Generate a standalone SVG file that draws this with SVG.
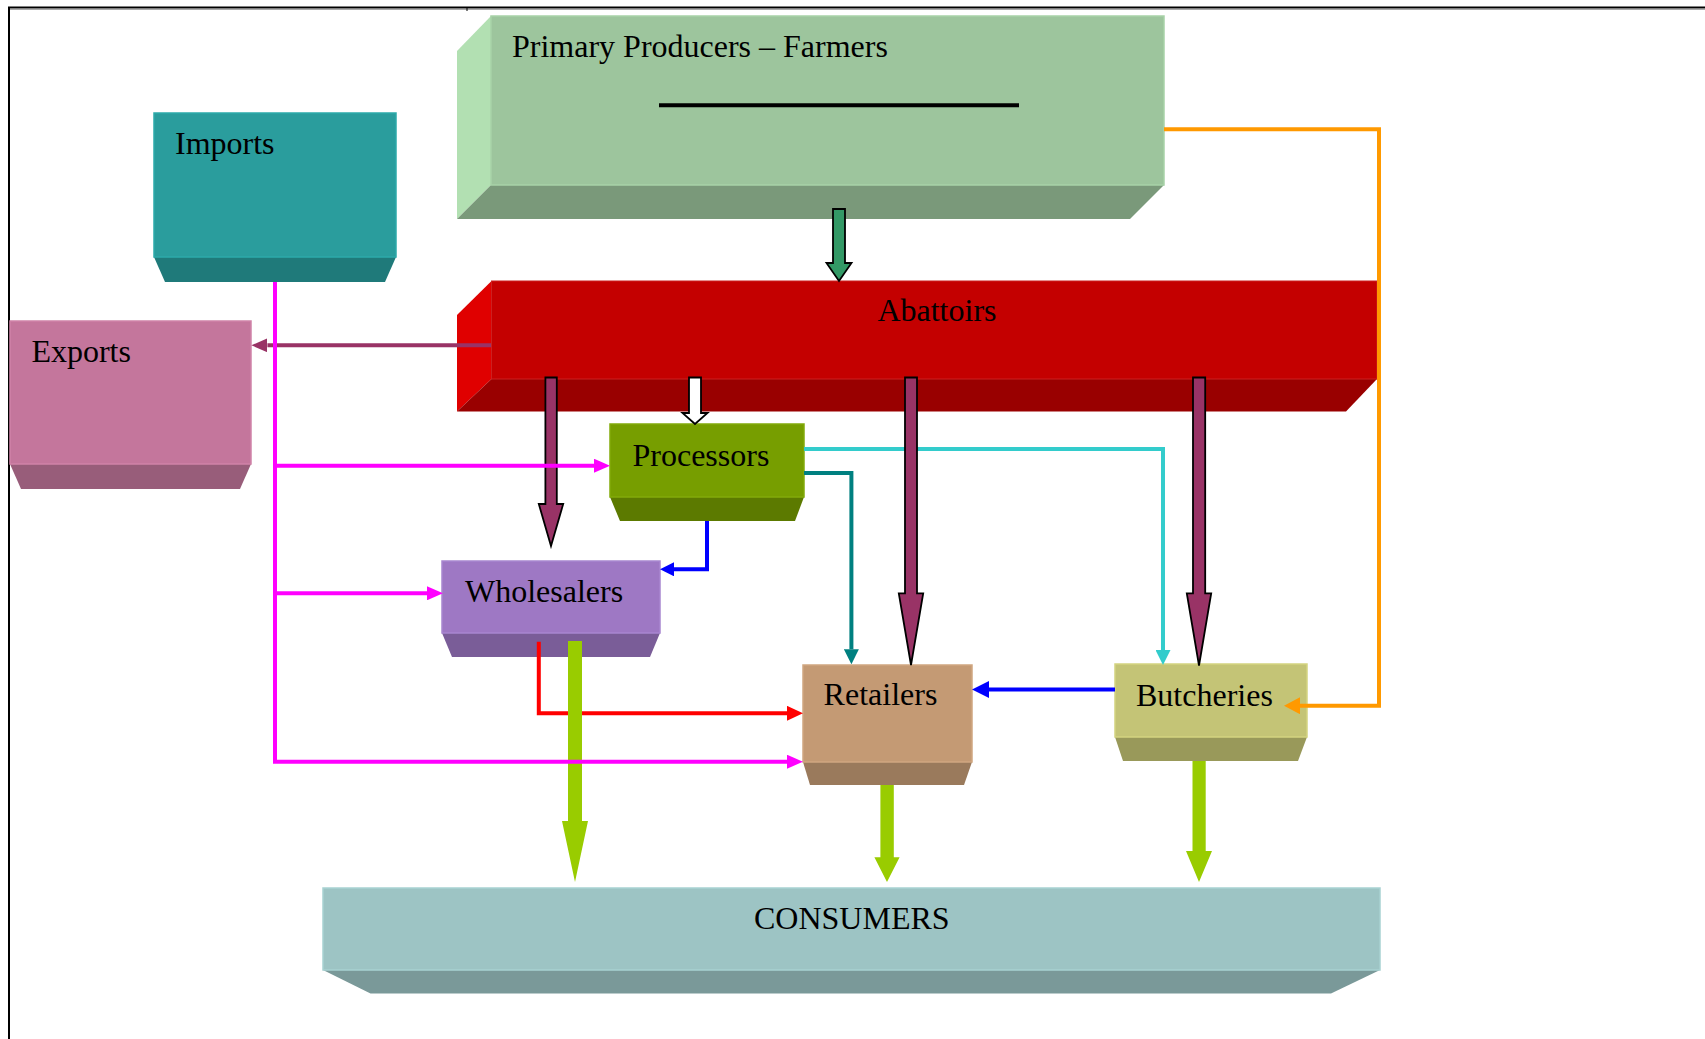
<svg xmlns="http://www.w3.org/2000/svg" width="1705" height="1039" viewBox="0 0 1705 1039">
<style>
.lbl{font-family:"Liberation Serif","Times New Roman",serif;font-size:32px;fill:#000}
.ln{fill:none;stroke-width:4;stroke-linejoin:miter;stroke-linecap:butt}
.blk{stroke:#000;stroke-width:1.8;stroke-linejoin:miter}
</style>
<defs>
<marker id="hMag" viewBox="0 -7 16 14" refX="0" refY="0" markerWidth="16" markerHeight="14" markerUnits="userSpaceOnUse" orient="auto"><path d="M0,-7 L16,0 L0,7 z" fill="#FF00FF"/></marker>
<marker id="hMar" viewBox="0 -7 16 14" refX="0" refY="0" markerWidth="16" markerHeight="14" markerUnits="userSpaceOnUse" orient="auto"><path d="M0,-7 L16,0 L0,7 z" fill="#993366"/></marker>
<marker id="hBlue" viewBox="0 -7 14 14" refX="0" refY="0" markerWidth="14" markerHeight="14" markerUnits="userSpaceOnUse" orient="auto"><path d="M0,-7 L14,0 L0,7 z" fill="#0000FF"/></marker>
<marker id="hBlueL" viewBox="0 -8.5 17 17" refX="0" refY="0" markerWidth="17" markerHeight="17" markerUnits="userSpaceOnUse" orient="auto"><path d="M0,-8.5 L17,0 L0,8.5 z" fill="#0000FF"/></marker>
<marker id="hTeal" viewBox="0 -7.5 15 15" refX="0" refY="0" markerWidth="15" markerHeight="15" markerUnits="userSpaceOnUse" orient="auto"><path d="M0,-7.5 L15,0 L0,7.5 z" fill="#008080"/></marker>
<marker id="hCyan" viewBox="0 -7.5 15 15" refX="0" refY="0" markerWidth="15" markerHeight="15" markerUnits="userSpaceOnUse" orient="auto"><path d="M0,-7.5 L15,0 L0,7.5 z" fill="#33CCCC"/></marker>
<marker id="hOr" viewBox="0 -8.5 16 17" refX="0" refY="0" markerWidth="16" markerHeight="17" markerUnits="userSpaceOnUse" orient="auto"><path d="M0,-8.5 L16,0 L0,8.5 z" fill="#FF9900"/></marker>
<marker id="hRed" viewBox="0 -7.5 16 15" refX="0" refY="0" markerWidth="16" markerHeight="15" markerUnits="userSpaceOnUse" orient="auto"><path d="M0,-7.5 L16,0 L0,7.5 z" fill="#FF0000"/></marker>
</defs>

<g id="frame">
<line x1="8" y1="7.5" x2="1705" y2="7.5" stroke="#000" stroke-width="2"/>
<line x1="8" y1="9.5" x2="1705" y2="9.5" stroke="#aaa" stroke-width="1"/>
<line x1="9" y1="7" x2="9" y2="1039" stroke="#000" stroke-width="2"/>
<line x1="467" y1="8" x2="467" y2="11" stroke="#000" stroke-width="1"/>
</g>

<g id="node-primary">
<polygon points="457,51 491,16 491,185 457,219" fill="#B2E0B2"/>
<polygon points="491,185 1164,185 1130,219 457,219" fill="#7A997A"/>
<rect x="491" y="16" width="673" height="169" fill="#9DC59D" stroke="#A8D2A8" stroke-width="1.5"/>
<text class="lbl" x="512" y="56.7">Primary Producers – Farmers</text>
<line x1="659" y1="105.3" x2="1019" y2="105.3" stroke="#000" stroke-width="4"/>
</g>

<g id="node-imports">
<polygon points="154,257 396,257 385,282 165,282" fill="#1F7A7A"/>
<rect x="154" y="113" width="242" height="144" fill="#2A9D9D" stroke="#2DAAAA" stroke-width="1.5"/>
<text class="lbl" x="175" y="154">Imports</text>
</g>

<g id="node-exports">
<polygon points="10,464 251,464 240,489 21,489" fill="#985D7A"/>
<rect x="10" y="321" width="241" height="143" fill="#C4769C" stroke="#D083A8" stroke-width="1.5"/>
<text class="lbl" x="31.4" y="361.7">Exports</text>
</g>

<g id="node-abattoirs">
<polygon points="457,315 491.5,281 491.5,379 457,411.5" fill="#E00000"/>
<polygon points="491.5,379 1377,379 1346,411.5 457,411.5" fill="#990000"/>
<rect x="491.5" y="281" width="885.5" height="98" fill="#C40000" stroke="#CC2020" stroke-width="1"/>
<text class="lbl" x="877.4" y="321">Abattoirs</text>
</g>

<g id="node-processors">
<polygon points="610,497 804,497 795,521 620,521" fill="#5C7A00"/>
<rect x="610" y="424" width="194" height="73" fill="#779E00" stroke="#82AA0A" stroke-width="1.5"/>
<text class="lbl" x="632.5" y="466">Processors</text>
</g>

<g id="node-wholesalers">
<polygon points="442,633 660,633 650,657 452,657" fill="#7A5D98"/>
<rect x="442" y="561" width="218" height="72" fill="#9E78C4" stroke="#A886D0" stroke-width="1.5"/>
<text class="lbl" x="465" y="601.7">Wholesalers</text>
</g>

<g id="node-retailers">
<polygon points="803,762 972,762 964,785 810,785" fill="#9A7A5C"/>
<rect x="803" y="665" width="169" height="97" fill="#C49A74" stroke="#D0A680" stroke-width="1.5"/>
<text class="lbl" x="823.6" y="705">Retailers</text>
</g>

<g id="node-butcheries">
<polygon points="1115,737 1307,737 1298,761 1123,761" fill="#99995A"/>
<rect x="1115" y="664" width="192" height="73" fill="#C4C476" stroke="#D4D480" stroke-width="1.5"/>
<text class="lbl" x="1136" y="705.7">Butcheries</text>
</g>

<g id="node-consumers">
<polygon points="323,970 1380,970 1331,993.5 370.5,993.5" fill="#7A9999"/>
<rect x="323" y="888" width="1057" height="82" fill="#9DC4C4" stroke="#A8D2D2" stroke-width="1.5"/>
<text class="lbl" x="754" y="929.3">CONSUMERS</text>
</g>

<g id="connectors">
<!-- thin line connectors -->
<path class="ln" stroke="#FF9900" d="M1164,129.3 H1379 V705.7 H1300" marker-end="url(#hOr)"/>
<path class="ln" stroke="#33CCCC" d="M804,449 H1163 V650" marker-end="url(#hCyan)"/>
<path class="ln" stroke="#008080" d="M804,473 H851.4 V649.3" marker-end="url(#hTeal)"/>
<path class="ln" stroke="#0000FF" d="M707,521 V569.3 H674" marker-end="url(#hBlue)"/>
<path class="ln" stroke="#0000FF" stroke-width="6" d="M1115,689.5 H989" marker-end="url(#hBlueL)"/>
<path class="ln" stroke="#FF0000" d="M538.8,641.7 V713.3 H787" marker-end="url(#hRed)"/>
<path class="ln" stroke="#993366" stroke-width="5" d="M491,345.3 H267.4" marker-end="url(#hMar)"/>

<!-- block arrows from abattoirs and producers -->
<polygon class="blk" fill="#339966" points="833,209 845,209 845,263 851.5,263 839,281 826.5,263 833,263"/>
<polygon class="blk" fill="#993366" points="545.4,377.5 556.8,377.5 556.8,504 563.2,504 551,546 538.8,504 545.4,504"/>
<polygon class="blk" fill="#FFFFFF" points="689,377.5 701,377.5 701,413 707.5,413 695,424 682.5,413 689,413"/>
<polygon class="blk" fill="#993366" points="905,377.5 917,377.5 917,593.3 923.2,593.3 911,665 898.8,593.3 905,593.3"/>
<polygon class="blk" fill="#993366" points="1193,377.5 1205.2,377.5 1205.2,593.3 1211.2,593.3 1199,665.5 1186.8,593.3 1193,593.3"/>

<!-- green arrows to consumers -->
<polygon fill="#99CC00" points="568,641 582,641 582,821 588,821 575,882 562,821 568,821"/>
<polygon fill="#99CC00" points="880.4,785 893.8,785 893.8,857.3 899.6,857.3 887,882 874.4,857.3 880.4,857.3"/>
<polygon fill="#99CC00" points="1192.5,761 1205.7,761 1205.7,851 1212,851 1199,882 1186,851 1192.5,851"/>

<!-- imports magenta distribution -->
<path class="ln" stroke="#FF00FF" d="M275,282 V761.7"/>
<path class="ln" stroke="#FF00FF" d="M273,465.7 H594" marker-end="url(#hMag)"/>
<path class="ln" stroke="#FF00FF" d="M273,593.3 H427" marker-end="url(#hMag)"/>
<path class="ln" stroke="#FF00FF" d="M273,761.7 H787" marker-end="url(#hMag)"/>
</g>
</svg>
